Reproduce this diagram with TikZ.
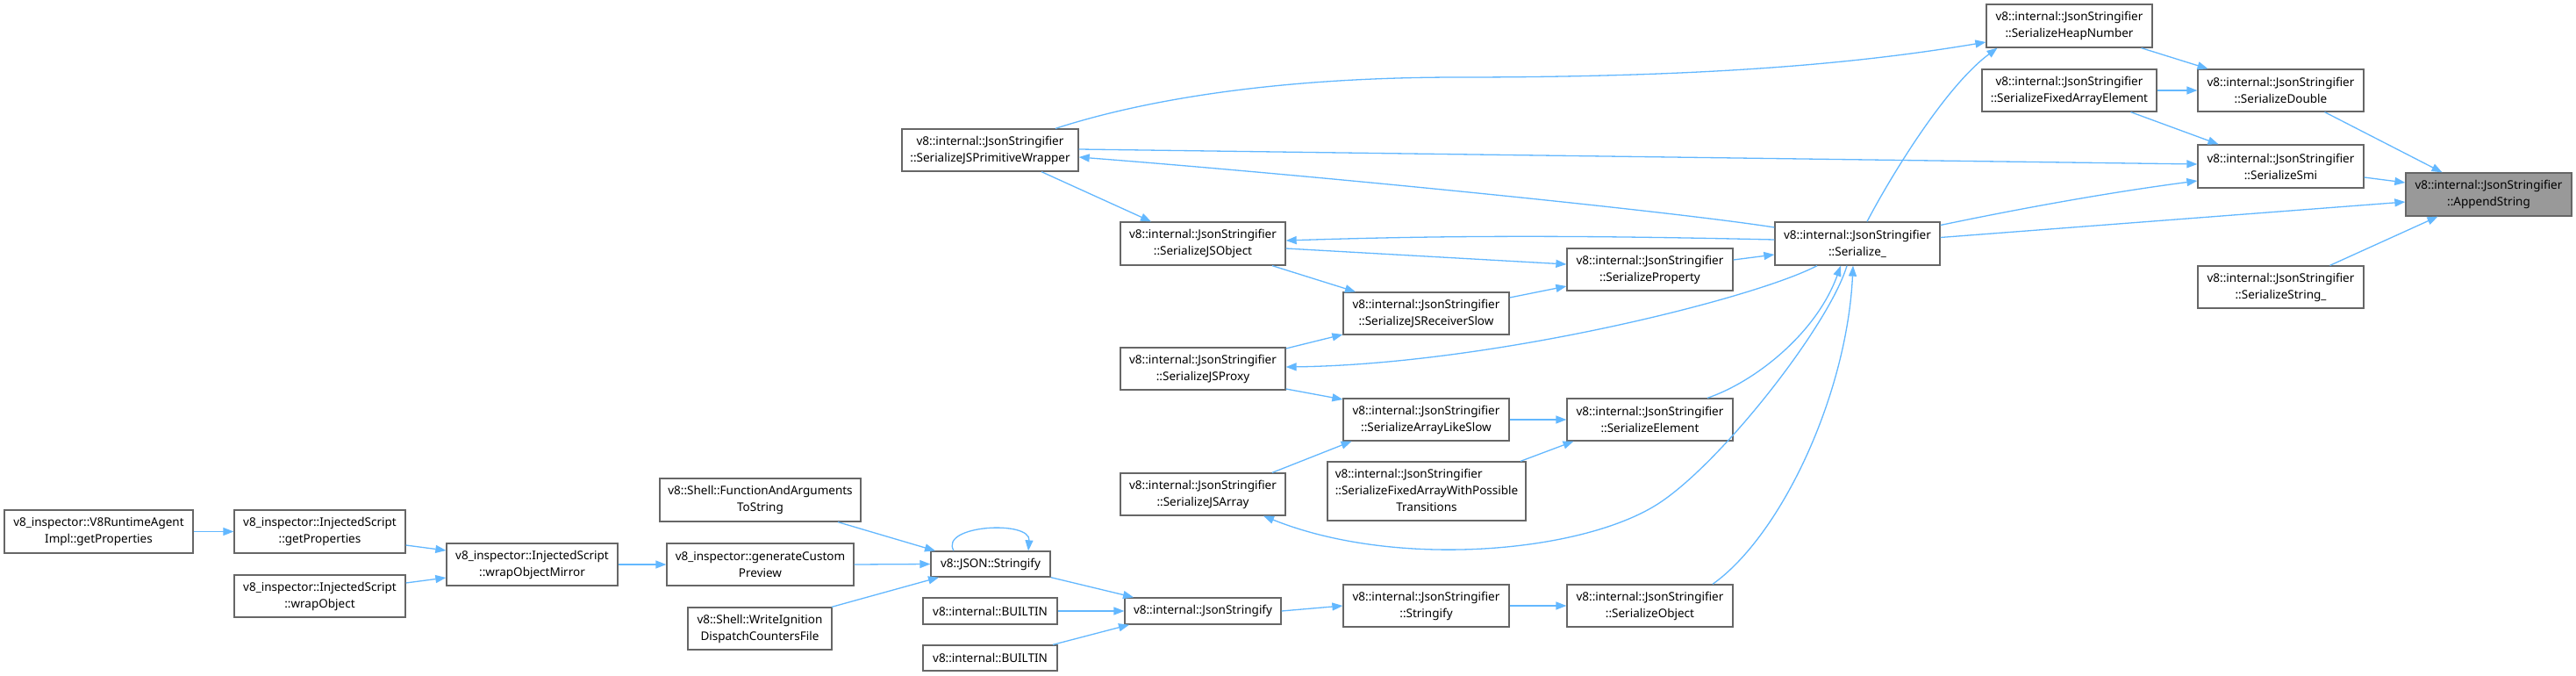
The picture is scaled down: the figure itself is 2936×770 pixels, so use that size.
\documentclass[tikz,border=0pt]{standalone}
\usepackage{fontspec}
\newfontfamily\nf{Noto Sans}
\usetikzlibrary{arrows.meta,calc}
\definecolor{edgeblue}{HTML}{63B8FF}
\definecolor{boxgray}{HTML}{666666}
\definecolor{hlfill}{HTML}{999999}
\newcommand{\vjs}{v8::internal::JsonStringifier}
\tikzset{
  fn/.style={draw=boxgray, line width=1.3pt, fill=white, align=center, inner sep=0pt,
    font=\nf\fontsize{13.5pt}{19pt}\selectfont, minimum width=189pt, minimum height=48pt},
  ed/.style={draw=edgeblue, line width=1.3pt, -{Triangle[length=12pt,width=9pt]}},
}
\begin{document}
\begin{tikzpicture}[x=1pt,y=-1pt]
\path[use as bounding box, fill=white] (0,0) rectangle (2936,770);
% nodes
\node[fn, fill=hlfill, minimum height=49pt] (AS) at (2836.5,221.5) {\vjs\\::AppendString};
\node[fn] (SD) at (2599.5,103) {\vjs\\::SerializeDouble};
\node[fn, minimum height=49pt] (SSmi) at (2599.5,189.5) {\vjs\\::SerializeSmi};
\node[fn] (SStr) at (2599.5,327) {\vjs\\::SerializeString\_};
\node[fn, minimum height=49pt] (SHN) at (2358.5,29.5) {\vjs\\::SerializeHeapNumber};
\node[fn, minimum width=199pt] (SFAE) at (2358.5,103) {\vjs\\::SerializeFixedArrayElement};
\node[fn, minimum width=188pt, minimum height=49pt] (Ser) at (2117,277.5) {\vjs\\::Serialize\_};
\node[fn, minimum width=201pt] (JSPW) at (1128.5,171) {\vjs\\::SerializeJSPrimitiveWrapper};
\node[fn, minimum width=188pt, minimum height=49pt] (JSO) at (1371,277.5) {\vjs\\::SerializeJSObject};
\node[fn] (SP) at (1880.5,307) {\vjs\\::SerializeProperty};
\node[fn] (RS) at (1625.5,357) {\vjs\\::SerializeJSReceiverSlow};
\node[fn, minimum width=188pt] (PX) at (1371,420) {\vjs\\::SerializeJSProxy};
\node[fn] (ALS) at (1625.5,478) {\vjs\\::SerializeArrayLikeSlow};
\node[fn] (SE) at (1880.5,478) {\vjs\\::SerializeElement};
\node[fn, minimum width=226pt, minimum height=67pt] (FAW) at (1626,559.5)
  {\begin{tabular}{@{}l@{}}\vjs\\::SerializeFixedArrayWithPossible\\\multicolumn{1}{@{}c@{}}{Transitions}\end{tabular}};
\node[fn, minimum width=188pt] (JA) at (1371,563) {\vjs\\::SerializeJSArray};
\node[fn] (ST) at (1625.5,690) {\vjs\\::Stringify};
\node[fn] (SO) at (1880.5,690) {\vjs\\::SerializeObject};
\node[fn, minimum width=178pt, minimum height=30pt] (JS) at (1371,696) {v8::internal::JsonStringify};
\node[fn, minimum width=153pt, minimum height=30pt] (B1) at (1128.5,696) {v8::internal::BUILTIN};
\node[fn, minimum width=153pt, minimum height=29pt] (B2) at (1128.5,749.5) {v8::internal::BUILTIN};
\node[fn, minimum width=136pt, minimum height=29pt] (JSON) at (1129,642.5) {v8::JSON::Stringify};
\node[fn, minimum width=229pt, minimum height=49pt] (FA) at (866.5,569.5) {v8::Shell::FunctionAndArguments\\ToString};
\node[fn, minimum width=213pt] (GCP) at (866.5,643) {v8\_inspector::generateCustom\\Preview};
\node[fn, minimum width=164pt] (WI) at (866,716) {v8::Shell::WriteIgnition\\DispatchCountersFile};
\node[fn, minimum width=195pt] (WOM) at (606.5,643) {v8\_inspector::InjectedScript\\::wrapObjectMirror};
\node[fn, minimum width=195pt, minimum height=49pt] (IGP) at (364.5,605.5) {v8\_inspector::InjectedScript\\::getProperties};
\node[fn, minimum width=195pt] (IWO) at (364.5,679) {v8\_inspector::InjectedScript\\::wrapObject};
\node[fn, minimum width=215pt, minimum height=49pt] (RA) at (112.5,605.5) {v8\_inspector::V8RuntimeAgent\\Impl::getProperties};
% edges
\draw[ed] ($(SD.south)+(50,0)$) -- ($(AS.north)+(-53,0)$);
\draw[ed] ($(SSmi.east)+(0,12.5)$) -- ($(AS.west)+(0,-13.5)$);
\draw[ed] ($(Ser.east)+(0,-7)$) -- ($(AS.west)+(0,8.5)$);
\draw[ed] ($(SStr.north)+(56,0)$) -- ($(AS.south)+(-58,0)$);
\draw[ed] ($(SHN.south)+(82,0)$) -- ($(SD.north)+(-83,0)$);
\draw[ed] (SFAE.east) -- (SD.west);
\draw[ed] ($(SFAE.south)+(70,0)$) -- ($(SSmi.north)+(-71,0)$);
\draw[ed] ($(JSPW.east)+(0,-1)$) -- ($(SSmi.west)+(0,-2.5)$);
\draw[ed] ($(Ser.east)+(0,-21)$) .. controls (2305,237) and (2405,219) .. ($(SSmi.west)+(0,16.5)$);
\draw[ed] ($(Ser.north)+(11,0)$) .. controls (2150,210) and (2215,100) .. ($(SHN.south)+(-82,0)$);
\draw[ed] ($(JSPW.north)+(74.5,0)$) .. controls (1300,115) and (1450,88) .. (1663,88)
  .. controls (1950,88) and (2120,72) .. ($(SHN.west)+(0,18.5)$);
\draw[ed] ($(Ser.west)+(0,-18.5)$) .. controls (1900,240) and (1500,200) .. ($(JSPW.east)+(0,8)$);
\draw[ed] ($(Ser.west)+(0,-4.5)$) .. controls (1800,268) and (1650,268) .. ($(JSO.east)+(0,-3.5)$);
\draw[ed] ($(JSPW.south)+(58.5,0)$) -- ($(JSO.north)+(-59,0)$);
\draw[ed] ($(JSO.east)+(0,5.5)$) -- ($(SP.west)+(0,-6)$);
\draw[ed] ($(JSO.south)+(79,0)$) -- ($(RS.north)+(-80.5,0)$);
\draw[ed] ($(RS.east)+(0,-18)$) -- ($(SP.west)+(0,19)$);
\draw[ed] ($(SP.east)+(0,-11)$) -- ($(Ser.west)+(0,12.5)$);
\draw[ed] ($(Ser.south)+(-46,0)$) .. controls (2000,340) and (1700,415) .. ($(PX.east)+(0,-2)$);
\draw[ed] ($(PX.east)+(0,-23)$) -- ($(RS.west)+(0,24)$);
\draw[ed] ($(PX.east)+(0,23)$) -- ($(ALS.west)+(0,-23)$);
\draw[ed] (ALS.east) -- (SE.west);
\draw[ed] ($(FAW.north)+(107,0)$) -- ($(SE.south)+(-87,0)$);
\draw[ed] ($(JA.north)+(79,0)$) -- ($(ALS.south)+(-85,0)$);
\draw[ed] ($(Ser.south)+(-12,0)$) .. controls (2085,370) and (1960,530) .. (1888,575)
  .. controls (1800,630) and (1590,648) .. ($(JA.south)+(69,0)$);
\draw[ed] ($(SE.north)+(65.5,0)$) .. controls (2000,435) and (2070,380) .. ($(Ser.south)+(-19,0)$);
\draw[ed] ($(SO.north)+(71.5,0)$) .. controls (2030,610) and (2105,450) .. ($(Ser.south)+(-5,0)$);
\draw[ed] (JS.east) -- (ST.west);
\draw[ed] (ST.east) -- (SO.west);
\draw[ed] (B1.east) -- (JS.west);
\draw[ed] ($(B2.north)+(71.5,0)$) -- ($(JS.south)+(-84,0)$);
\draw[ed] (JSON.south east) -- ($(JS.north)+(-79,0)$);
\draw[ed] ($(JSON.north)+(-42,0)$) .. controls (1070,598) and (1175,592) .. ($(JSON.north)+(43,0)$);
\draw[ed] ($(FA.south)+(88.5,0)$) -- ($(JSON.north)+(-63,0)$);
\draw[ed] (GCP.east) -- (JSON.west);
\draw[ed] ($(WI.north)+(82,0)$) -- ($(JSON.south)+(-59,0)$);
\draw[ed] (WOM.east) -- (GCP.west);
\draw[ed] ($(IGP.east)+(0,15.5)$) -- ($(WOM.west)+(0,-16)$);
\draw[ed] ($(IWO.east)+(0,-15)$) -- ($(WOM.west)+(0,15)$);
\draw[ed] (RA.east) -- (IGP.west);
\end{tikzpicture}
\end{document}
